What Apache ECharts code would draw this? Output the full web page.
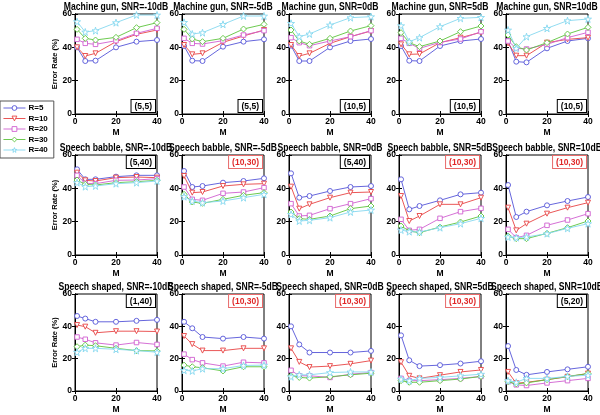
<!DOCTYPE html>
<html><head><meta charset="utf-8">
<script src="https://cdn.jsdelivr.net/npm/echarts@6/dist/echarts.min.js"></script>
<style>html,body{margin:0;padding:0;background:#fff}#c{width:600px;height:415px}</style>
</head><body><div id="c"></div>
<script>
const M = [1, 5, 10, 20, 30, 40];
const seriesNames = ['R=5', 'R=10', 'R=20', 'R=30', 'R=40'];
const noiseTypes = ['Machine gun', 'Speech babble', 'Speech shaped'];
const snrLabels = ['-10dB', '-5dB', '0dB', '5dB', '10dB'];
const xTicks = [0, 20, 40];
const yTicks = [0, 20, 40, 60];

// Machine gun
const mg_m10 = [[40,31.8,32,40,43.4,44.4],[40,34.8,36.4,43.4,47.8,50.4],[44.8,42.4,41.8,44,48.4,51.4],[50.8,45.4,44.4,46,51.8,54.8],[55.4,49.2,50,54.8,59.4,59.4]];
const mg_m5 = [[40.8,32,31.8,40.4,43.4,44.8],[41.4,35.8,36.4,43,46.8,50.4],[45.4,42.4,42,44,47.4,50],[50.8,45,43.4,45.4,51,53.8],[55,48,48.8,53.8,58.8,58.8]];
const mg_0 = [[41,31.8,31.8,40,43.8,45],[41.4,34.8,36.4,42.4,46.4,49.8],[45.8,42.8,41,43.8,46.4,50],[50.4,43.8,41.8,45.4,49.8,53],[54.4,46.4,48,53.4,57.8,58.4]];
const mg_5 = [[40.8,32,31.8,40.8,43.8,45],[41.8,35.8,36,42.8,45.8,49],[45.4,42.4,39.4,43,45,49.4],[48.8,42.8,40.4,43.8,49.4,52.8],[53,43.4,45.8,52.4,57.4,58]];
const mg_10 = [[43.8,31.4,31,39.4,43.8,45.4],[42.4,35,35,42.8,44.8,45.8],[43.8,39.4,39,41.8,45.8,49],[47.4,40.4,38.4,42.8,48,52],[50.4,39.4,46.4,51.4,56,57]];
// Speech babble
const sb_m10 = [[51.4,45.4,45.4,47,47.8,47.8],[49.4,44.8,44.4,46.4,46.8,46.4],[47.8,43,42.8,44.8,45,45.8],[45,42.4,42,43.4,44,44.8],[43.4,41,41.4,42.8,43.4,44.4]];
const sb_m5 = [[50.4,40.8,41.4,43.4,44.4,46],[47.4,37.4,37.8,41.4,42.4,42.8],[40.8,33.4,32.8,37,37.8,40.4],[36.4,31.8,31,33.4,35.8,37.4],[35,32.4,31.4,32.4,34.4,36.4]];
const sb_0 = [[49,34.4,35.4,38.4,40.8,41.4],[41,27.8,30.4,34.4,37.4,37.8],[30.8,23.4,23.8,27.8,30.8,33.8],[25.8,21.8,21.4,23.4,27.8,29.4],[24.4,20.4,20.8,22.4,25.8,27]];
const sb_5 = [[45.4,27.4,29.4,32.8,36.4,37.4],[35.4,20.4,23.4,30.4,30.4,34.4],[21.4,14.8,15.4,22,26,28],[17.4,14.4,13.4,16.8,19.8,23.4],[15,14,13.8,16.4,18.8,22]];
const sb_10 = [[42,22.8,26,29.8,32.4,34.8],[28.4,14.8,18.8,24.8,28.4,31.4],[15.4,10.4,11.8,17.8,21,24.8],[11.4,9.8,9.8,13,16.4,20.4],[10.8,10.4,10.8,12.8,16,18.8]];
// Speech shaped
const ss_m10 = [[46.4,44.8,42.8,42.8,43.4,44],[40.8,39.8,36,37,37,36.8],[33.4,32,29.8,28.4,30,28.8],[27.4,28.4,28,26.4,25,24.8],[24,26.4,26.4,25.8,25,24]];
const ss_m5 = [[42.8,38.8,33.4,32.4,33.4,32.4],[34,29,25,25,26.4,26.4],[22.8,19.4,17.4,15.4,17.8,17.4],[16,15,14.4,12.4,15,15],[12.8,12.4,13.8,13.8,15.8,16]];
const ss_0 = [[40,28.8,23.8,23.8,23.8,24.8],[26.4,18,14.8,15.4,16.8,18.8],[12.8,9.4,9.4,8.4,10.4,11.4],[9.4,8.4,8,8.8,10,11],[8.8,10,10,11.4,11.8,11.8]];
const ss_5 = [[34.4,19,15.4,16,17,18.4],[17.8,9.4,7.8,9.8,11.8,13],[7.8,6.4,6.4,7,7.8,9],[6.4,5.4,5.4,6.4,7.4,9],[7.4,6.4,7.8,8.4,9.4,10.4]];
const ss_10 = [[27.8,13,10,11.8,13.4,15],[11.8,4.8,5.4,7,8.8,10.8],[5.8,3.8,3.4,5,6.4,7.8],[5.8,4.4,5,7,9,10.8],[6.4,5.4,7.8,7.8,9,9.8]];

const panelData = [
  [mg_m10, mg_m5, mg_0, mg_5, mg_10],
  [sb_m10, sb_m5, sb_0, sb_5, sb_10],
  [ss_m10, ss_m5, ss_0, ss_5, ss_10]
];
const annoText = [
  ['(5,5)', '(5,5)', '(10,5)', '(10,5)', '(10,5)'],
  ['(5,40)', '(10,30)', '(5,40)', '(10,30)', '(10,30)'],
  ['(1,40)', '(10,30)', '(10,30)', '(10,30)', '(5,20)']
];
const annoRed = [
  [0, 0, 0, 0, 0],
  [0, 1, 0, 1, 1],
  [0, 1, 1, 1, 0]
];

// styling / layout
const colors = ['#5555d8', '#e84444', '#d060d0', '#5cc43c', '#86d8ef'];
const STAR = 'path://M50 0 L61.23 34.55 L97.55 34.55 L68.17 55.9 L79.39 90.45 L50 69.1 L20.61 90.45 L31.83 55.9 L2.45 34.55 L38.77 34.55 Z';
const symbols = ['circle', 'triangle', 'rect', 'diamond', STAR];
const symRot = [0, 180, 0, 0, 0];
const symSize = [5, 5, 4.5, 6, 7];
const colLeft = [75, 182, 289, 399, 506];
const rowTop = [14, 155, 294];
const W = 82, H = 100;
const FONT = '"Liberation Sans", Arial, Helvetica, sans-serif';

const grids = [], xAxes = [], yAxes = [], series = [], graphics = [];
let gi = 0;
for (let r = 0; r < 3; r++) {
  for (let c = 0; c < 5; c++) {
    grids.push({left: colLeft[c], top: rowTop[r], width: W, height: H, show: true, borderColor: '#000', borderWidth: 1, backgroundColor: '#fff'});
    const axBase = {
      type: 'value', gridIndex: gi, min: 0, interval: 20,
      axisLine: {show: true, lineStyle: {color: '#000', width: 1}},
      axisTick: {show: true, inside: true, length: 3, lineStyle: {color: '#000'}},
      splitLine: {show: false}
    };
    xAxes.push(Object.assign({}, axBase, {
      position: 'bottom', max: 40,
      axisLabel: {show: true, color: '#000', fontWeight: 'bold', fontSize: 8.5, fontFamily: FONT, margin: 3,
        formatter: v => xTicks.includes(v) ? String(v) : ''},
      name: 'M', nameLocation: 'middle', nameGap: 14,
      nameTextStyle: {color: '#000', fontWeight: 'bold', fontSize: 8.5, fontFamily: FONT}
    }));
    xAxes.push(Object.assign({}, axBase, {position: 'top', max: 40, axisLabel: {show: false}}));
    yAxes.push(Object.assign({}, axBase, {
      position: 'left', max: 60,
      axisLabel: {show: true, color: '#000', fontWeight: 'bold', fontSize: 8.5, fontFamily: FONT, margin: 3,
        formatter: v => yTicks.includes(v) ? String(v) : ''},
      name: c === 0 ? 'Error Rate (%)' : '', nameLocation: 'middle', nameGap: 13,
      nameTextStyle: {color: '#000', fontWeight: 'bold', fontSize: 7.5, fontFamily: FONT}
    }));
    yAxes.push(Object.assign({}, axBase, {position: 'right', max: 60, axisLabel: {show: false}}));

    const d = panelData[r][c];
    for (let s = 0; s < 5; s++) {
      series.push({
        type: 'line', name: seriesNames[s], xAxisIndex: 2 * gi, yAxisIndex: 2 * gi,
        data: M.map((m, k) => [m, d[s][k]]),
        symbol: symbols[s], symbolRotate: symRot[s], symbolSize: symSize[s], showAllSymbol: true,
        lineStyle: {color: colors[s], width: 0.9},
        itemStyle: {color: '#fff', borderColor: colors[s], borderWidth: 0.9},
        emphasis: {disabled: true}, animation: false, z: 3 + s
      });
    }

    // panel title
    graphics.push({
      type: 'text', x: colLeft[c] + W / 2, y: rowTop[r] - 2, scaleX: 0.86, z: 50,
      style: {text: noiseTypes[r] + ', SNR=' + snrLabels[c], align: 'center', verticalAlign: 'bottom',
        font: 'bold 10px ' + FONT, fill: '#000'}
    });
    // annotation box
    const red = annoRed[r][c] === 1;
    const bottom = r === 0;
    graphics.push({
      type: 'text', x: colLeft[c] + W - 2, y: bottom ? rowTop[r] + H - 2 : rowTop[r] + 1, z: 50,
      style: {text: annoText[r][c], align: 'right', verticalAlign: bottom ? 'bottom' : 'top',
        font: 'bold 8.5px ' + FONT, fill: red ? '#e02828' : '#000',
        backgroundColor: '#fff', borderColor: red ? '#e86a6a' : '#000', borderWidth: 1,
        padding: [2, 3, 1, 3]}
    });
    gi++;
  }
}

const chart = echarts.init(document.getElementById('c'), null, {renderer: 'canvas'});
chart.setOption({
  animation: false,
  backgroundColor: '#fff',
  grid: grids, xAxis: xAxes, yAxis: yAxes, series: series,
  legend: {
    data: seriesNames, orient: 'vertical', left: 0, top: 101,
    itemWidth: 22, itemHeight: 6, itemGap: 2.5,
    padding: [3, 6, 4, 3],
    borderColor: '#555', borderWidth: 1, backgroundColor: '#fff',
    itemStyle: {borderWidth: 0.9},
    lineStyle: {width: 0.9},
    textStyle: {color: '#000', fontWeight: 'bold', fontSize: 8, fontFamily: FONT, padding: [0, 0, 0, -2]},
    selectedMode: false
  },
  graphic: graphics
});
</script>
</body></html>
